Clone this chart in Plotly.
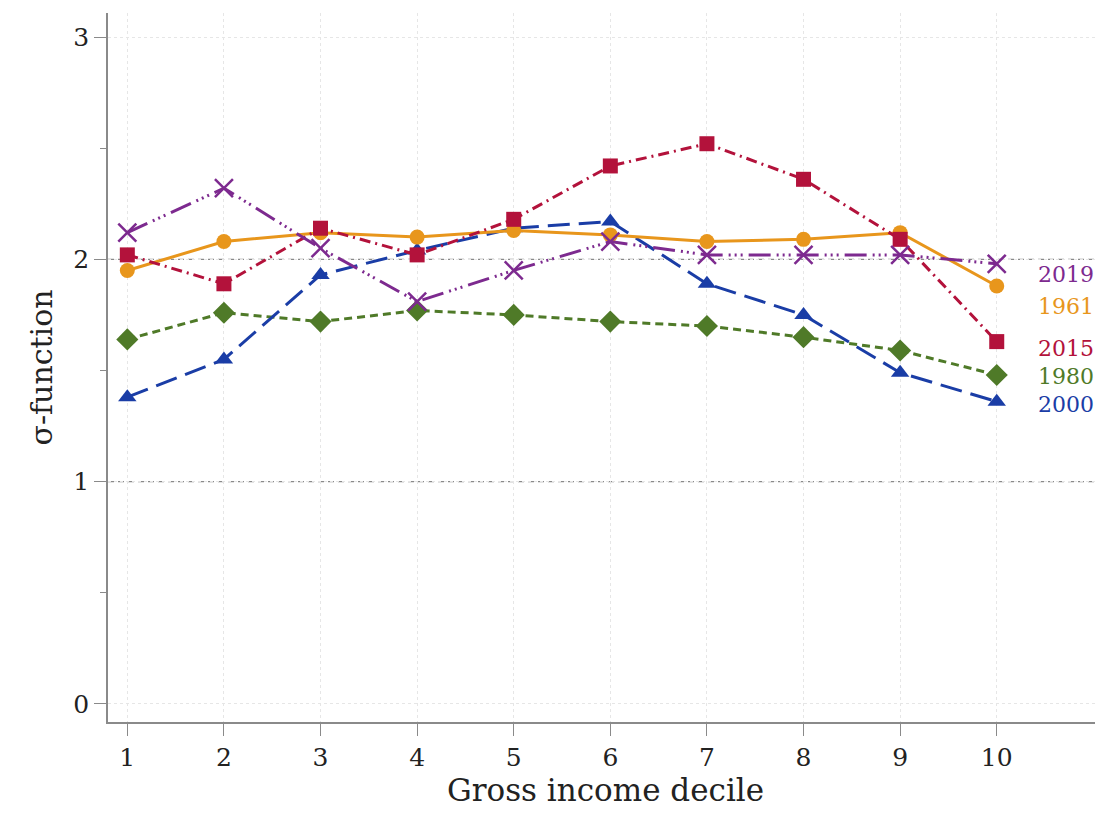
import plotly.graph_objects as go

deciles = [1, 2, 3, 4, 5, 6, 7, 8, 9, 10]
s2019 = [2.12, 2.32, 2.05, 1.81, 1.95, 2.08, 2.02, 2.02, 2.02, 1.98]
s1961 = [1.95, 2.08, 2.12, 2.10, 2.13, 2.11, 2.08, 2.09, 2.12, 1.88]
s2015 = [2.02, 1.89, 2.14, 2.02, 2.18, 2.42, 2.52, 2.36, 2.09, 1.63]
s1980 = [1.64, 1.76, 1.72, 1.77, 1.75, 1.72, 1.70, 1.65, 1.59, 1.48]
s2000 = [1.38, 1.55, 1.93, 2.04, 2.14, 2.17, 1.89, 1.75, 1.49, 1.36]

label_names = ["2019", "1961", "2015", "1980", "2000"]
label_y = [1.93, 1.79, 1.60, 1.475, 1.345]
ref_lines = [1, 2]
yticks = [0, 1, 2, 3]

FONT = "DejaVu Serif"

series = [
    ("1980", s1980, "#4f7a28", "diamond", 17, "8px,5px", 3),
    ("2000", s2000, "#1a3da6", "triangle-up", 16, "22px,9px", 3),
    ("1961", s1961, "#e8961c", "circle", 15, "solid", 3),
    ("2015", s2015, "#b3123b", "square", 15, "11px,5px,2px,5px", 3),
    ("2019", s2019, "#7d2a8f", "x-thin-open", 18, "22px,6px,2px,4px,2px,4px,2px,6px", 3),
]
colors = {s[0]: s[2] for s in series}

fig = go.Figure()
for name, vals, col, sym, ms, dash, lw in series:
    marker = dict(symbol=sym, size=ms, color=col)
    if sym == "x-thin-open":
        marker["line"] = dict(color=col, width=2.5)
    fig.add_trace(go.Scatter(
        x=deciles, y=vals, mode="lines+markers", name=name,
        line=dict(color=col, width=lw, dash=dash),
        marker=marker, showlegend=False,
    ))

for r in ref_lines:
    fig.add_hline(y=r, line=dict(color="#8a8a8a", width=1.3, dash="6px,4px"), layer="below")

for name, yv in zip(label_names, label_y):
    fig.add_annotation(x=10.41, y=yv, text=name, showarrow=False, xanchor="left",
                       yanchor="middle", font=dict(family=FONT, size=22, color=colors[name]))

fig.update_layout(
    width=1095, height=806,
    margin=dict(l=100, r=0, t=5, b=92),
    paper_bgcolor="white", plot_bgcolor="white",
    font=dict(family=FONT, size=25, color="#222"),
    xaxis=dict(range=[0.80, 11.1], tickvals=deciles, ticktext=[str(d) for d in deciles],
               showgrid=True, gridcolor="#e6e6e6", griddash="dot", gridwidth=1,
               zeroline=False, showline=True, linecolor="#8a8a8a", linewidth=1.5,
               ticks="outside", ticklen=12, tickcolor="#8a8a8a", tickwidth=1.2,
               automargin=False,
               title=dict(text="Gross income decile", font=dict(size=31), standoff=3)),
    yaxis=dict(range=[-0.081, 3.108], tickvals=yticks, ticktext=[str(t) for t in yticks],
               showgrid=True, gridcolor="#e6e6e6", griddash="dot", gridwidth=1,
               zeroline=False, showline=True, linecolor="#8a8a8a", linewidth=1.5,
               ticks="outside", ticklen=12, tickcolor="#8a8a8a", tickwidth=1.2,
               automargin=False,
               minor=dict(tickvals=[0.5, 1.5, 2.5], ticks="outside", ticklen=6,
                          tickcolor="#8a8a8a", showgrid=False),
               title=dict(text="σ-function", font=dict(size=30), standoff=12)),
)

fig.write_html("out.html")
